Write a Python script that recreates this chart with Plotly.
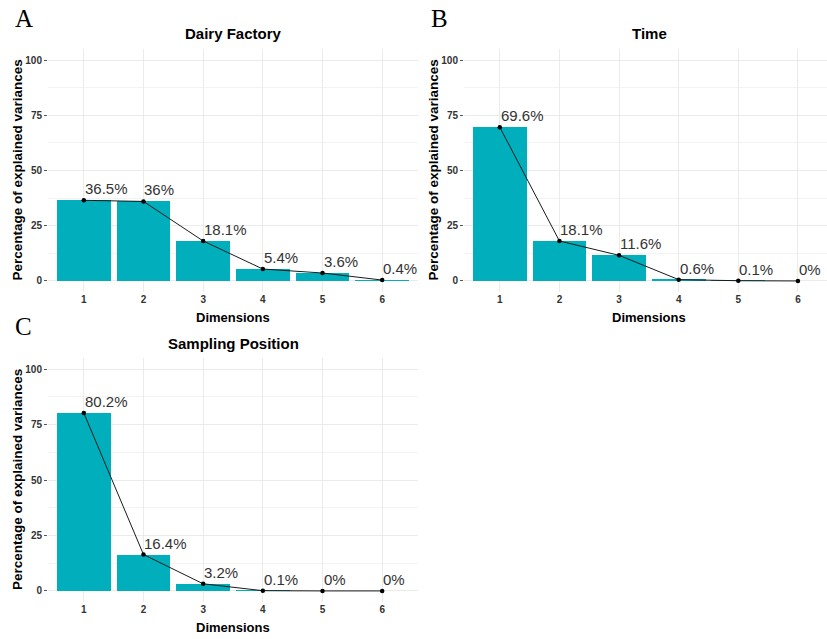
import plotly.graph_objects as go

# Scree plots: percentage of explained variance per dimension
dimensions = [1, 2, 3, 4, 5, 6]
dairy_factory = [36.5, 36, 18.1, 5.4, 3.6, 0.4]
time_var = [69.6, 18.1, 11.6, 0.6, 0.1, 0]
sampling_position = [80.2, 16.4, 3.2, 0.1, 0, 0]

panel_titles = ["Dairy Factory", "Time", "Sampling Position"]
panel_letters = ["A", "B", "C"]
y_ticks = [0, 25, 50, 75, 100]

W, H = 827, 639
BAR = "#00AFBB"
GRID = "#EBEBEB"
TXT = "#333333"


def px(x):
    return x / W


def py(y):
    return 1 - y / H


fig = go.Figure()

panels = [
    # (values, axis suffix, x domain px, y domain px, x range end)
    (dairy_factory, "", (48, 418), (49, 292), 6.6),
    (time_var, "2", (464, 827), (49, 292), 6.487),
    (sampling_position, "3", (48, 418), (358, 602), 6.6),
]

annotations = []
for i, (vals, sfx, (x0, x1), (y0, y1), xend) in enumerate(panels):
    xa = "x" + sfx
    ya = "y" + sfx
    fig.add_trace(go.Bar(
        x=dimensions, y=vals, width=0.9,
        marker=dict(color=BAR, line=dict(width=0)),
        xaxis=xa, yaxis=ya, showlegend=False, hoverinfo="skip",
    ))
    fig.add_trace(go.Scatter(
        x=dimensions, y=vals, mode="lines+markers",
        line=dict(color="#1a1a1a", width=1),
        marker=dict(color="black", size=4.5),
        xaxis=xa, yaxis=ya, showlegend=False, hoverinfo="skip",
    ))
    for d, v in zip(dimensions, vals):
        annotations.append(dict(
            x=d, y=v, xref=xa, yref=ya, text=f"{v:g}%", showarrow=False,
            xanchor="left", yanchor="bottom", xshift=-1, yshift=1,
            font=dict(family="Liberation Sans, Arial", size=15, color=TXT),
        ))

    axkey = "xaxis" + sfx
    aykey = "yaxis" + sfx
    fig.update_layout({
        axkey: dict(
            domain=[px(x0), px(x1)], range=[0.4, xend], anchor=ya,
            tickvals=dimensions, ticktext=[str(d) for d in dimensions],
            showgrid=True, gridcolor=GRID, gridwidth=1, zeroline=False,
            showline=False, ticks="", ticklen=0,
            tickfont=dict(family="Liberation Sans, Arial", size=10, color=TXT, weight="bold"),
        ),
        aykey: dict(
            domain=[py(y1), py(y0)], range=[-5, 105], anchor=xa,
            tickvals=y_ticks, showgrid=True, gridcolor=GRID, gridwidth=1,
            zeroline=False, showline=False, ticks="outside", ticklen=3,
            tickcolor="#555555", tickwidth=1,
            minor=dict(tickvals=[12.5, 37.5, 62.5, 87.5], showgrid=True,
                       gridcolor="#F3F3F3", gridwidth=1, ticks=""),
            tickfont=dict(family="Liberation Sans, Arial", size=10, color=TXT, weight="bold"),
        ),
    })

    xc = (x0 + (x1 if sfx != "2" else 834)) / 2
    yc = (y0 + y1) / 2
    # Panel title
    annotations.append(dict(
        x=px(xc), y=py(y0 - 15), xref="paper", yref="paper",
        text=panel_titles[i], showarrow=False, xanchor="center", yanchor="middle",
        font=dict(family="Liberation Sans, Arial", size=15, color="black", weight="bold"),
    ))
    # x axis title
    annotations.append(dict(
        x=px(xc), y=py(y1 + 25), xref="paper", yref="paper",
        text="Dimensions", showarrow=False, xanchor="center", yanchor="middle",
        font=dict(family="Liberation Sans, Arial", size=13, color="black", weight="bold"),
    ))
    # y axis title
    annotations.append(dict(
        x=px(x0 - 31), y=py(yc), xref="paper", yref="paper",
        text="Percentage of explained variances", showarrow=False, textangle=-90,
        xanchor="center", yanchor="middle",
        font=dict(family="Liberation Sans, Arial", size=13.5, color="black", weight="bold"),
    ))

# Panel letters
for letter, (lx, ly) in zip(panel_letters, [(24, 19), (439, 19), (23, 327)]):
    annotations.append(dict(
        x=px(lx), y=py(ly), xref="paper", yref="paper", text=letter,
        showarrow=False, xanchor="center", yanchor="middle",
        font=dict(family="Liberation Serif, Times New Roman", size=25, color="black"),
    ))

fig.update_layout(
    width=W, height=H, margin=dict(l=0, r=0, t=0, b=0),
    paper_bgcolor="white", plot_bgcolor="white",
    bargap=0, annotations=annotations,
)

fig.write_html("out.html")
